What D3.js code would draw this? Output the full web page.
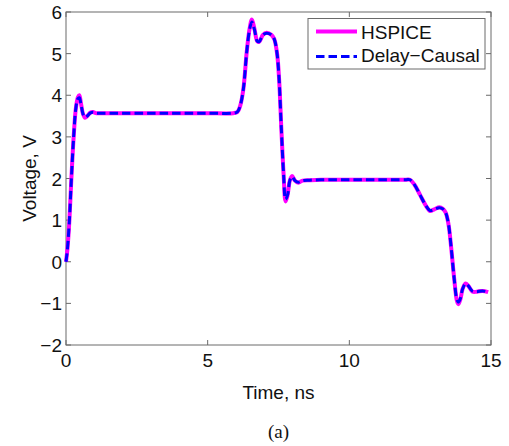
<!DOCTYPE html>
<html><head><meta charset="utf-8">
<script src="https://cdn.jsdelivr.net/npm/d3@7"></script>
<style>body{margin:0;background:#fff}svg{display:block}text{font-family:"Liberation Sans",Arial,sans-serif}</style>
</head><body><svg id="c" width="509" height="446"></svg>
<script>
const timeNs = [0,0.05,0.12,0.19,0.27,0.35,0.42,0.47,0.53,0.6,0.67,0.75,0.85,0.95,1.05,1.3,2,3,4,5,5.9,6.05,6.15,6.26,6.38,6.48,6.56,6.65,6.75,6.82,6.95,7.08,7.25,7.35,7.45,7.52,7.6,7.68,7.75,7.82,7.9,7.98,8.08,8.2,8.35,8.6,9,10,11,12,12.14,12.3,12.5,12.7,12.85,13.0,13.18,13.3,13.4,13.5,13.6,13.7,13.8,13.85,13.92,14.0,14.1,14.2,14.35,14.5,14.7,14.9];
const hspice = [0,0.3,1.0,2.0,3.0,3.7,3.95,4.0,3.8,3.55,3.46,3.5,3.58,3.6,3.57,3.57,3.57,3.57,3.57,3.57,3.57,3.6,3.75,4.15,5.05,5.6,5.82,5.6,5.3,5.28,5.45,5.5,5.45,5.35,5.0,4.4,3.2,2.1,1.45,1.6,1.95,2.06,1.95,1.9,1.95,1.96,1.97,1.97,1.97,1.97,1.97,1.85,1.6,1.35,1.22,1.26,1.31,1.27,1.18,0.9,0.3,-0.4,-0.95,-1.02,-0.9,-0.65,-0.52,-0.58,-0.72,-0.72,-0.7,-0.73];
const delayCausal = [0,0.3,1.0,2.0,3.0,3.7,3.92,3.94,3.78,3.55,3.47,3.5,3.57,3.59,3.57,3.57,3.57,3.57,3.57,3.57,3.57,3.6,3.75,4.15,5.05,5.58,5.76,5.58,5.3,5.29,5.45,5.49,5.45,5.35,5.0,4.4,3.2,2.1,1.5,1.6,1.95,2.04,1.95,1.91,1.95,1.96,1.97,1.97,1.97,1.97,1.97,1.85,1.6,1.35,1.23,1.26,1.3,1.27,1.18,0.9,0.3,-0.4,-0.92,-0.97,-0.88,-0.65,-0.53,-0.58,-0.71,-0.72,-0.7,-0.73];
const xTicks = [0,5,10,15];
const yTicks = [-2,-1,0,1,2,3,4,5,6];
const seriesNames = ["HSPICE","Delay\u2212Causal"];

const svg = d3.select("#c");
const L=66,T=12,R=491,B=345;
const x = d3.scaleLinear().domain([0,15]).range([L,R]);
const y = d3.scaleLinear().domain([-2,6]).range([B,T]);
const axisCol="#6a6a6a", fs=19;

svg.append("rect").attr("x",L).attr("y",T).attr("width",R-L).attr("height",B-T)
  .attr("fill","none").attr("stroke",axisCol).attr("stroke-width",1);
const g = svg.append("g").attr("stroke",axisCol).attr("stroke-width",1);
xTicks.forEach(t=>{
  g.append("line").attr("x1",x(t)).attr("x2",x(t)).attr("y1",B).attr("y2",B-5);
  g.append("line").attr("x1",x(t)).attr("x2",x(t)).attr("y1",T).attr("y2",T+5);
});
yTicks.forEach(t=>{
  g.append("line").attr("x1",L).attr("x2",L+5).attr("y1",y(t)).attr("y2",y(t));
  g.append("line").attr("x1",R).attr("x2",R-5).attr("y1",y(t)).attr("y2",y(t));
});
svg.selectAll(".xt").data(xTicks).enter().append("text")
  .attr("x",d=>x(d)).attr("y",B+21.5).attr("text-anchor","middle").attr("font-size",fs)
  .attr("fill","#111").text(d=>d);
svg.selectAll(".yt").data(yTicks).enter().append("text")
  .attr("x",L-4).attr("y",d=>y(d)+7).attr("text-anchor","end").attr("font-size",fs)
  .attr("fill","#111").text(d=>d<0?"\u2212"+(-d):d);
svg.append("text").attr("x",(L+R)/2).attr("y",399).attr("text-anchor","middle")
  .attr("font-size",fs).attr("fill","#111").text("Time, ns");
svg.append("text").attr("transform",`translate(36,${(T+B)/2}) rotate(-90)`)
  .attr("text-anchor","middle").attr("font-size",fs).attr("fill","#111").text("Voltage, V");
svg.append("text").attr("x",(L+R)/2).attr("y",438).attr("text-anchor","middle")
  .attr("font-size",19).attr("fill","#111").style("font-family","'Liberation Serif','Times New Roman',serif").text("(a)");

const line = d3.line().x((d,i)=>x(timeNs[i])).y(d=>y(d)).curve(d3.curveCatmullRom.alpha(0.5));
svg.append("path").attr("d",line(hspice)).attr("fill","none").attr("stroke","#ff00ff")
  .attr("stroke-width",4).attr("stroke-linejoin","round");
svg.append("path").attr("d",line(delayCausal)).attr("fill","none").attr("stroke","#0000ff")
  .attr("stroke-width",3).attr("stroke-dasharray","8.5,4");

const lg = svg.append("g");
lg.append("rect").attr("x",308).attr("y",18.5).attr("width",177).attr("height",50.5)
  .attr("fill","#fff").attr("stroke",axisCol).attr("stroke-width",1);
lg.append("line").attr("x1",316).attr("x2",357).attr("y1",31.5).attr("y2",31.5)
  .attr("stroke","#ff00ff").attr("stroke-width",4);
lg.append("line").attr("x1",316).attr("x2",357).attr("y1",56.5).attr("y2",56.5)
  .attr("stroke","#0000ff").attr("stroke-width",3).attr("stroke-dasharray","8.5,4");
lg.selectAll(".lt").data(seriesNames).enter().append("text")
  .attr("x",361).attr("y",(d,i)=>38.5+i*23.5).attr("font-size",fs).attr("fill","#111").text(d=>d);
</script></body></html>
